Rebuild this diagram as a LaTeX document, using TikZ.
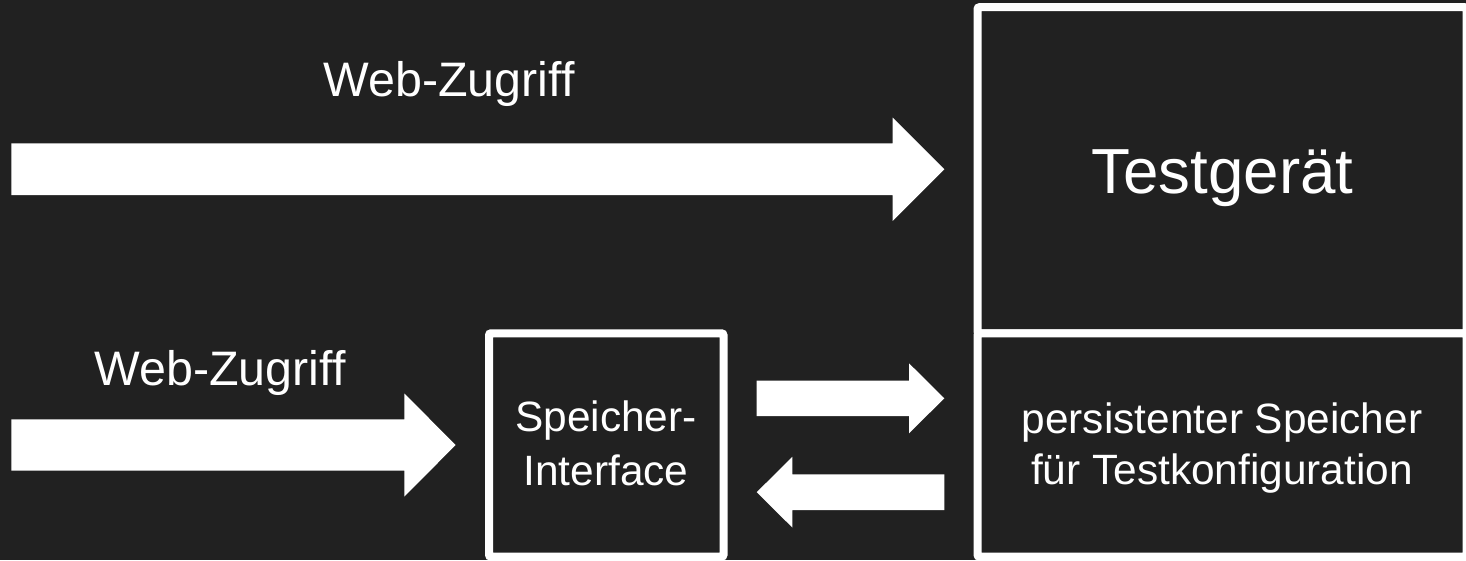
\documentclass[tikz,border=0pt]{standalone}
\usepackage{fontspec}
\setmainfont{Liberation Sans}
\definecolor{bg}{HTML}{212121}
\newcommand\fatarrow[7]{% name, x-tail, x-tip, y-mid, body half, head half, head length
  \coordinate (#1-tail) at (#2,#4);
  \coordinate (#1-tip) at (#3,#4);
  \pgfmathsetmacro\hb{#3-(#7)*((#3>#2)?1:-1)}
  \fill[white] (#2,#4-#5) -- (\hb,#4-#5) -- (\hb,#4-#6) -- (#1-tip)
    -- (\hb,#4+#6) -- (\hb,#4+#5) -- (#2,#4+#5) -- cycle;
}
\begin{document}
\begin{tikzpicture}[x=1pt,y=-1pt,
  box/.style={draw=white,line width=8pt,rounded corners=2pt,fill=bg},
  lbl/.style={text=white,inner sep=0pt,anchor=base},
  big/.style={font=\fontsize{63.7}{70}\selectfont},
  mid/.style={font=\fontsize{48.4}{54}\selectfont},
  small/.style={font=\fontsize{42.4}{48}\selectfont}]
\fill[bg] (0,0) rectangle (1466,560);
\useasboundingbox (0,0) rectangle (1466,560);
% boxes
\draw[box] (977.5,7.2) rectangle (1466.5,333.3);
\node[inner sep=0pt,minimum size=0pt] (dev) at (1222,170) {};
\draw[box] (977.5,333.3) rectangle (1466.5,556.7);
\node[inner sep=0pt,minimum size=0pt] (mem) at (1222,445) {};
\draw[box] (489,333.3) rectangle (723.5,556.7);
\node[inner sep=0pt,minimum size=0pt] (sif) at (606,445) {};
% labels
\node[lbl,big] (tdev) at (1222.5,193.3) {Testgerät};
\node[lbl,small] (tmem1) at (1222,433.3) {persistenter Speicher};
\node[lbl,small] (tmem2) at (1222,484.8) {für Testkonfiguration};
\node[lbl,small] (tsif1) at (606,431.7) {Speicher-};
\node[lbl,small] (tsif2) at (606,485) {Interface};
\node[lbl,mid] (w1) at (449,96.7) {Web-Zugriff};
\node[lbl,mid] (w2) at (220,385) {Web-Zugriff};
% arrows
\fatarrow{a1}{11.3}{944.3}{169.2}{25.8}{51.7}{51.6}
\fatarrow{a2}{11.3}{455.7}{445}{25.7}{51.5}{51.4}
\fatarrow{a3}{756.7}{944.3}{398.3}{17.7}{35}{35.3}
\fatarrow{a4}{944.3}{756.7}{492.2}{17.8}{35.3}{35.6}
\end{tikzpicture}
\end{document}
